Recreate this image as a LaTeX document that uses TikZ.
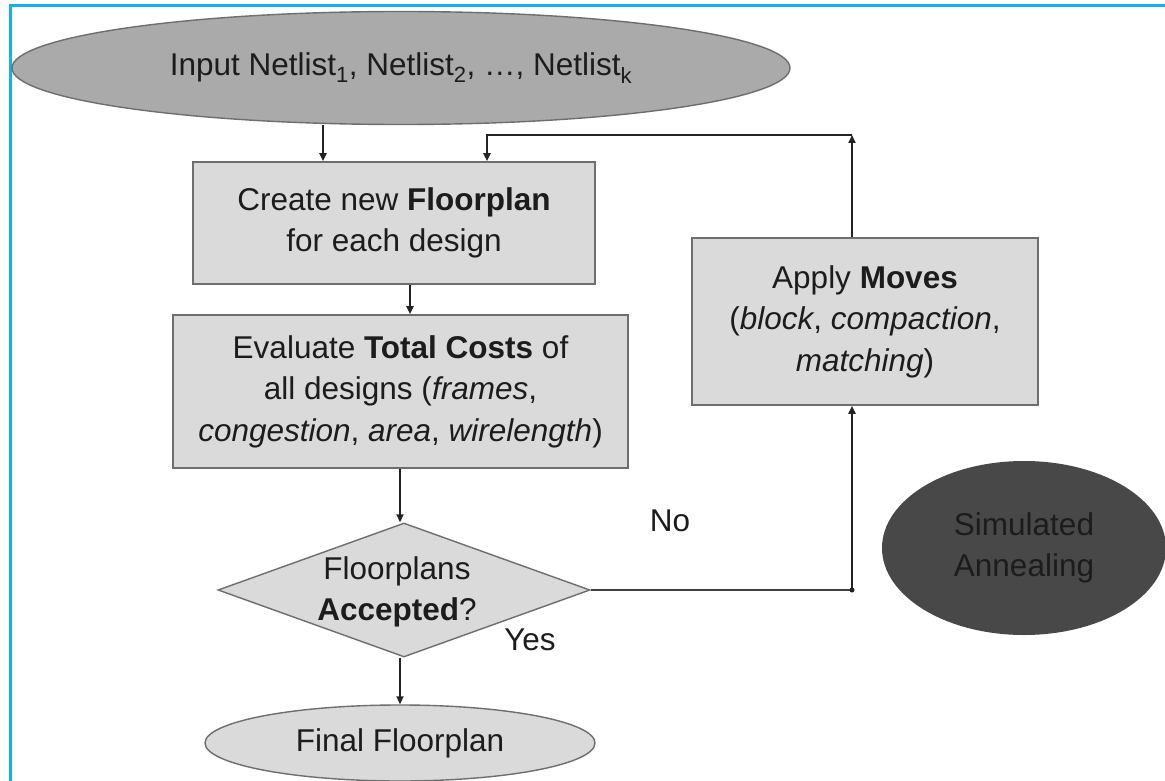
\documentclass[tikz,border=0pt]{standalone}
\usepackage{fontspec}
\setmainfont{Liberation Sans}
\usetikzlibrary{shapes.geometric,arrows.meta}
\definecolor{frameblue}{RGB}{20,175,240}
\definecolor{boxfill}{RGB}{218,218,218}
\definecolor{boxline}{RGB}{110,110,110}
\definecolor{topfill}{RGB}{170,170,170}
\definecolor{safill}{RGB}{72,72,72}
\definecolor{txt}{RGB}{28,28,28}
\definecolor{conn}{RGB}{35,35,35}
\tikzset{
  lbl/.style={font=\fontsize{31.5}{41.5}\selectfont, text=txt, align=center},
  procbox/.style={draw=boxline, line width=1.6pt, fill=boxfill, inner sep=0pt, lbl},
  ellbox/.style={ellipse, draw=boxline, line width=1.4pt, inner sep=0pt, lbl},
  conn/.style={draw=conn, line width=1.8pt},
  arr/.style={conn, -{Triangle[length=8pt,width=7pt]}},
  junction/.style={circle, fill=conn, inner sep=0pt, minimum size=5pt}
}
\begin{document}
\begin{tikzpicture}[x=1pt,y=-1pt]
\useasboundingbox (0,0) rectangle (1165,781);
\fill[white] (0,0) rectangle (1165,781);
% frame
\draw[frameblue, line width=3pt] (10.5,781) -- (10.5,5.5) -- (1165,5.5);

% top ellipse
\node[ellbox, fill=topfill, minimum width=778pt, minimum height=113pt] (in) at (401,68)
  {Input Netlist\textsubscript{1}, Netlist\textsubscript{2}, \ldots, Netlist\textsubscript{k}};

% create box
\node[procbox, minimum width=402pt, minimum height=122pt] (create) at (394,223)
  {Create new \textbf{Floorplan}\\ for each design};

% evaluate box
\node[procbox, minimum width=455pt, minimum height=153pt] (eval) at (400.5,391.5)
  {Evaluate \textbf{Total Costs} of\\ all designs (\textit{frames},\\ \textit{congestion}, \textit{area}, \textit{wirelength})};

% diamond
\node[diamond, draw=boxline, line width=1.4pt, fill=boxfill, inner sep=0pt,
      minimum width=372pt, minimum height=134pt] (acc) at (404,590) {};
\node[lbl] (acctext) at (397,592) {Floorplans\\ \textbf{Accepted}?};

% final ellipse
\node[ellbox, fill=boxfill, minimum width=390pt, minimum height=76pt] (final) at (400,743)
  {Final Floorplan};

% apply moves box
\node[procbox, minimum width=346pt, minimum height=167pt] (moves) at (865,321.5)
  {Apply \textbf{Moves}\\ (\textit{block}, \textit{compaction},\\ \textit{matching})};

% simulated annealing
\node[ellbox, draw=none, fill=safill, minimum width=284pt, minimum height=174pt] (sa) at (1024,548)
  {Simulated\\ Annealing};

% labels
\node[lbl] (no) at (670,521) {No};
\node[lbl] (yes) at (530,640) {Yes};

% connectors
\draw[arr] (in.south -| 323,0) -- (create.north -| 323,0);
\draw[arr] (create.south -| 410,0) -- (eval.north -| 410,0);
\draw[arr] (eval.south -| 400,0) -- (acc.north -| 400,0);
\draw[arr] (acc.south -| 400,0) -- (final.north -| 400,0);

\coordinate (jn) at (852,590);
\coordinate (top) at (852,135);
\coordinate (topl) at (487,135);
\draw[conn, line width=2.6pt, draw=black!75] (acc.east) -- (jn);
\node[junction] at (jn) {};
\draw[arr] (jn) -- (moves.south -| jn);
\draw[arr] (moves.north -| top) -- (top);
\draw[arr] (top) -- (topl) -- (create.north -| topl);
\end{tikzpicture}
\end{document}
